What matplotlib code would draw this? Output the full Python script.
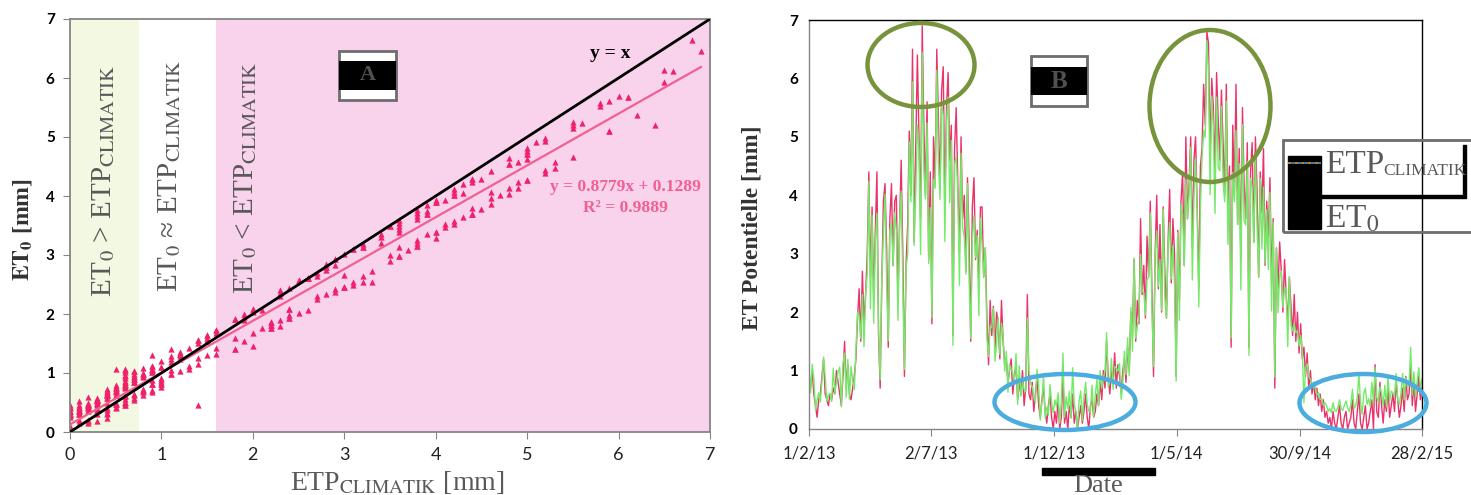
import matplotlib
matplotlib.use("Agg")
import matplotlib.pyplot as plt
from matplotlib.patches import Rectangle, Ellipse
from matplotlib.lines import Line2D
import numpy as np
import pandas as pd

plt.rcParams['mathtext.fontset'] = 'stix'
plt.rcParams['font.family'] = ['Lato', 'DejaVu Sans']

# ETP CLIMATIK (red) and ET0 (green), one value every two days, 1/2/13 -> 28/2/15
etp = [
    0.9, 0.7, 1.0, 0.6, 0.4, 0.2, 0.5, 0.6, 0.9, 1.2, 0.6, 0.5, 0.4, 0.6,
    0.5, 0.7, 0.6, 1.0, 0.8, 0.6, 0.4, 0.9, 1.5, 0.7, 1.1, 0.6, 0.5, 0.7, 0.9, 1.2,
    1.9, 2.4, 1.5, 2.7, 1.8, 2.3, 3.0, 4.4, 2.6, 3.8, 2.2, 3.4, 4.4, 1.6, 0.7,
    2.5, 3.9, 4.2, 3.1, 1.4, 3.6, 4.2, 2.8, 3.9, 4.0, 2.2, 3.5, 4.6, 3.0, 0.9, 2.8,
    3.5, 5.1, 4.0, 6.5, 3.2, 4.8, 6.4, 5.0, 3.6, 6.9, 5.2, 4.0, 5.6, 2.9, 4.4,
    1.8, 5.0, 4.2, 6.5, 5.3, 4.1, 5.8, 6.2, 3.8, 5.5, 6.1, 4.6, 5.2, 1.6, 4.8,
    5.5, 4.2, 3.0, 5.0, 3.6, 4.0, 2.7, 4.3, 3.2, 1.5, 3.8, 4.3, 2.9, 3.4, 2.4, 3.8,
    3.8, 2.6, 3.1, 1.9, 1.1, 2.2, 1.6, 2.1, 1.4, 2.0, 1.8, 1.2, 2.2, 1.5, 1.1,
    1.2, 0.8, 1.0, 1.2, 0.6, 0.9, 1.1, 0.5, 0.8, 0.6, 1.0, 0.4, 0.7, 2.3, 0.6,
    0.5, 0.8, 0.3, 0.6, 0.9, 0.4, 0.2, 0.5, 0.7, 0.3, 0.1, 0.4, 0.6, 0.2, 0.0,
    0.3, 0.1, 0.5, 0.0, 0.2, 0.9, 0.1, 0.3, 0.0, 0.4, 0.2, 0.6, 0.1, 0.3, 0.0, 0.2,
    0.4, 0.1, 0.3, 0.6, 0.2, 0.0, 0.4, 0.5, 0.2, 0.3, 0.6, 0.4, 0.8, 0.5, 1.0,
    0.7, 1.5, 0.9, 0.6, 1.0, 0.8, 1.3, 0.7, 1.1, 0.9, 0.6, 1.0, 1.2, 0.8,
    1.4, 1.0, 2.0, 1.6, 2.9, 1.5, 2.2, 1.8, 3.6, 2.3, 2.8, 1.9, 3.3, 2.6, 3.9, 2.4,
    0.9, 3.0, 4.0, 2.4, 3.5, 2.0, 3.8, 2.7, 1.9, 3.2, 4.1, 2.5, 3.6, 3.0, 0.9,
    3.4, 2.2, 3.9, 4.4, 2.8, 5.0, 3.6, 4.2, 5.0, 3.1, 4.6, 5.0, 3.8, 2.4, 4.5,
    4.8, 5.9, 5.2, 6.8, 6.6, 4.7, 6.0, 5.5, 4.4, 6.1, 5.3, 4.6, 5.8, 4.9, 4.0,
    5.9, 3.8, 4.5, 1.4, 5.2, 4.0, 5.9, 3.5, 4.8, 2.9, 5.5, 4.2, 3.6, 4.9, 1.4, 4.4,
    4.9, 3.2, 5.0, 4.1, 2.6, 4.4, 3.7, 4.8, 2.8, 3.9, 3.3, 4.3, 2.5, 3.6, 0.7,
    3.1, 2.4, 3.2, 2.7, 2.0, 2.9, 2.3, 1.8, 2.6, 2.1, 1.6, 2.3, 1.5, 2.0, 1.3,
    1.8, 1.2, 1.4, 0.9, 1.3, 0.7, 1.0, 0.6, 0.8, 0.5, 0.7, 0.4, 0.6, 0.3, 0.5, 0.2,
    0.3, 0.1, 0.2, 0.0, 0.3, 0.1, 0.0, 0.2, 0.4, 0.1, 0.0, 0.2, 0.3, 0.0, 0.1,
    0.2, 0.5, 0.1, 0.0, 0.3, 0.6, 0.1, 0.0, 0.2, 0.4, 0.0, 0.1, 0.3, 0.5, 0.0,
    1.1, 0.3, 0.2, 0.8, 0.4, 0.1, 0.5, 0.3, 0.7, 0.2, 0.4, 0.6, 0.3, 0.8, 0.5, 0.2,
    0.4, 0.7, 0.3, 0.9, 0.5, 0.6, 1.1, 0.4, 0.8, 0.3, 0.6, 0.9, 0.5, 0.7,
]
et0 = [
    1.07, 0.62, 1.11, 0.86, 0.33, 0.50, 0.62, 0.46, 0.82, 1.23, 0.91, 0.47, 0.58, 0.61,
    0.47, 1.04, 0.61, 0.81, 0.98, 1.06, 0.38, 1.12, 1.30, 0.54, 1.19, 0.51, 1.07, 0.84, 0.67, 1.33,
    2.00, 1.94, 1.55, 2.30, 1.41, 2.30, 2.66, 4.24, 2.06, 3.66, 1.81, 3.21, 3.69, 1.73, 0.84,
    2.57, 3.35, 4.02, 2.50, 1.51, 3.39, 3.52, 2.79, 3.70, 3.39, 1.86, 3.50, 4.07, 2.46, 1.02, 2.74,
    3.00, 4.91, 3.89, 5.94, 3.14, 4.04, 5.20, 4.77, 2.99, 6.45, 4.44, 3.94, 5.24, 2.83, 3.79,
    1.91, 4.27, 4.12, 6.14, 4.58, 3.93, 5.57, 5.37, 3.21, 5.26, 5.68, 3.87, 4.94, 1.43, 4.54,
    4.66, 4.07, 2.46, 4.72, 3.44, 3.29, 2.65, 4.20, 2.54, 1.55, 3.26, 3.65, 2.93, 3.31, 1.94, 3.61,
    3.16, 2.61, 3.10, 1.55, 1.24, 1.76, 1.73, 2.07, 1.16, 1.45, 1.91, 1.28, 1.81, 1.60, 0.99,
    1.33, 0.63, 1.11, 1.03, 0.96, 0.82, 1.29, 0.42, 1.08, 0.56, 0.81, 0.68, 0.64, 1.90, 1.01,
    0.77, 0.73, 0.54, 0.46, 1.02, 0.73, 0.15, 0.47, 0.94, 0.19, 0.37, 0.23, 0.76, 0.45, 0.28,
    0.50, 0.38, 0.62, 0.10, 0.45, 1.30, 0.20, 0.55, 0.35, 0.65, 0.18, 1.05, 0.42, 0.30, 0.02, 0.48,
    0.65, 0.15, 0.55, 0.80, 0.42, 0.30, 0.30, 0.75, 0.20, 0.58, 0.85, 0.40, 1.00, 0.70, 0.88,
    0.99, 1.65, 0.72, 0.81, 1.21, 0.68, 1.07, 1.04, 0.99, 1.12, 0.51, 0.76, 1.33, 0.93,
    1.56, 0.91, 2.08, 1.33, 2.93, 1.55, 1.76, 1.91, 2.99, 2.35, 2.34, 1.95, 2.55, 2.61, 3.70, 2.09,
    1.07, 3.01, 3.39, 2.44, 2.90, 2.03, 3.76, 2.25, 1.90, 3.14, 3.53, 2.57, 3.14, 2.46, 0.82,
    3.36, 1.86, 3.85, 3.69, 2.79, 4.27, 3.59, 4.02, 4.82, 2.55, 3.97, 4.62, 3.71, 2.09, 3.78,
    4.64, 5.11, 4.99, 6.65, 6.12, 4.01, 5.70, 5.16, 3.69, 5.68, 4.48, 4.42, 5.52, 4.23, 3.89,
    5.61, 3.16, 4.28, 1.56, 4.39, 3.89, 5.11, 3.50, 4.54, 2.38, 5.21, 3.57, 3.49, 4.58, 1.26, 4.29,
    4.13, 3.19, 4.72, 3.48, 2.61, 4.29, 3.08, 4.14, 2.84, 3.75, 2.73, 4.05, 2.02, 3.54, 0.89,
    3.10, 1.99, 2.64, 2.70, 2.08, 2.43, 2.40, 1.41, 2.61, 1.77, 1.68, 1.80, 1.65, 1.68, 1.42,
    1.60, 1.35, 0.45, 1.05, 1.12, 0.90, 0.85, 0.78, 0.70, 0.72, 0.58, 0.62, 0.50, 0.52, 0.40, 0.45,
    0.40, 0.30, 0.35, 0.28, 0.45, 0.32, 0.30, 0.38, 0.50, 0.35, 0.32, 0.40, 0.48, 0.36, 0.30,
    0.42, 0.68, 0.35, 0.40, 0.55, 0.95, 0.45, 0.25, 0.60, 0.70, 0.42, 0.52, 0.38, 0.80, 0.45,
    1.05, 0.55, 0.45, 0.72, 0.62, 0.40, 0.75, 0.38, 0.90, 0.48, 0.65, 0.62, 0.55, 0.95, 0.50, 0.42,
    0.62, 0.95, 0.50, 0.88, 0.72, 0.75, 1.40, 0.58, 0.98, 0.55, 0.82, 1.05, 0.70, 0.85,
]

fit_slope = 0.8779
fit_intercept = 0.1289
fit_r2 = 0.9889

date_ticks = ['2013-02-01', '2013-07-02', '2013-12-01', '2014-05-01', '2014-09-30', '2015-02-28']
date_labels = ['1/2/13', '2/7/13', '1/12/13', '1/5/14', '30/9/14', '28/2/15']

W, H = 1471, 495
def fx(x):
    return x / W
def fy(y):
    return 1 - y / H

fig = plt.figure(figsize=(W / 100, H / 100), dpi=100)

grey = '#595959'
serif = 'Liberation Serif'

### panel A : scatter
ax1 = fig.add_axes([fx(70), 63 / H, 640 / W, 413 / H])
ax1.axvspan(0, 0.75, color='#f3f8e2', lw=0, zorder=0)
ax1.axvspan(1.6, 7, color='#f9d2ec', lw=0, zorder=0)
ax1.scatter(etp, et0, marker='^', s=20, color='#f0206a', lw=0, zorder=2)
xf = np.array([0, 6.9])
ax1.plot(xf, fit_slope * xf + fit_intercept, color='#f06090', lw=1.6, zorder=3)
ax1.plot([0, 7], [0, 7], color='black', lw=2, zorder=4)
ax1.set_xlim(0, 7)
ax1.set_ylim(0, 7)
ax1.set_xticks(range(8))
ax1.set_yticks(range(8))
for s in ax1.spines.values():
    s.set_color('#858585')
    s.set_linewidth(1.3)
ax1.tick_params(axis='x', length=5, color='#858585', labelsize=13, labelcolor='#222222', pad=6)
ax1.tick_params(axis='y', length=5, color='#858585', labelsize=11, pad=6)
for t in ax1.get_yticklabels():
    t.set_fontweight('bold')

ax1.text(0.37, 6.22, r'ET$_0$ > ETP$_{\mathrm{CLIMATIK}}$', rotation=90, ha='center', va='top',
         fontsize=21, color=grey, family=serif)
ax1.text(1.09, 6.30, r'ET$_0$ ≈ ETP$_{\mathrm{CLIMATIK}}$', rotation=90, ha='center', va='top',
         fontsize=21, color=grey, family=[serif, 'DejaVu Serif'])
ax1.text(1.92, 6.27, r'ET$_0$ < ETP$_{\mathrm{CLIMATIK}}$', rotation=90, ha='center', va='top',
         fontsize=21, color=grey, family=serif)
ax1.text(5.91, 6.42, 'y = x', ha='center', va='center', fontsize=14, fontweight='bold', family=serif)
ax1.text(6.07, 4.15, 'y = %.4fx + %.4f' % (fit_slope, fit_intercept), ha='center', va='center',
         fontsize=12.5, fontweight='bold', color='#f06090', family=serif)
ax1.text(6.07, 3.80, 'R² = %.4f' % fit_r2, ha='center', va='center',
         fontsize=12.5, fontweight='bold', color='#f06090', family=serif)

fig.text(fx(22), fy(230), r'$\mathbf{ET_0}$ [mm]', rotation=90, ha='center', va='center',
         fontsize=17, fontweight='bold', color='#333333', family=serif)
fig.text(fx(397), fy(490), r'ETP$_{\mathrm{CLIMATIK}}$ [mm]', ha='center', va='baseline',
         fontsize=20, color=grey, family=serif)

### panel B : time series
dates = pd.date_range('2013-02-01', '2015-02-28', periods=len(etp))
ax2 = fig.add_axes([fx(809), 66 / H, 613 / W, 409 / H])
ax2.plot(dates, etp, color='#e8336b', lw=1.0)
ax2.plot(dates, et0, color='#74ea68', lw=1.0)
ax2.set_xlim(pd.Timestamp('2013-02-01'), pd.Timestamp('2015-02-28'))
ax2.set_ylim(0, 7)
ax2.set_xticks(pd.to_datetime(date_ticks))
ax2.set_xticklabels(date_labels)
ax2.set_yticks(range(8))
ax2.spines['top'].set_color('black')
ax2.spines['right'].set_color('black')
ax2.spines['left'].set_color('#858585')
ax2.spines['bottom'].set_color('#858585')
for s in ax2.spines.values():
    s.set_linewidth(1.0)
ax2.tick_params(axis='x', length=5, color='#858585', labelsize=12, labelcolor='#222222', pad=7)
ax2.tick_params(axis='y', length=0, labelsize=11, pad=8)
for t in ax2.get_yticklabels():
    t.set_fontweight('bold')

fig.text(fx(752), fy(228), 'ET Potentielle [mm]', rotation=90, ha='center', va='center',
         fontsize=17, fontweight='bold', color='#333333', family=serif)
fig.add_artist(Rectangle((fx(1042), fy(475)), 113 / W, 7 / H, color='black', transform=fig.transFigure))
fig.text(fx(1098), fy(492), 'Date', ha='center', va='baseline', fontsize=19, color=grey, family=serif)

# circled areas
for cx, cy, w, h, c in [(921, 65, 107, 84, '#77933c'), (1210, 106, 121, 152, '#77933c'),
                        (1065, 402, 141, 56, '#4bacdf'), (1363, 403, 127, 58, '#4bacdf')]:
    fig.add_artist(Ellipse((fx(cx), fy(cy)), w / W, h / H, fill=False, edgecolor=c, lw=3.2,
                           transform=fig.transFigure, zorder=5))

# panel tags A / B
for x0, x1, y0, y1, b0, b1, lab, fs in [(339, 396, 51, 100, 61, 90, 'A', 16),
                                        (1031, 1087, 56, 106, 67, 95, 'B', 18)]:
    fig.add_artist(Rectangle((fx(x0), fy(y1)), (x1 - x0) / W, (y1 - y0) / H, facecolor='white',
                             edgecolor='#6d6d6d', lw=2, transform=fig.transFigure, zorder=6))
    fig.add_artist(Rectangle((fx(x0), fy(b1)), (x1 - x0) / W, (b1 - b0) / H, facecolor='black',
                             lw=0, transform=fig.transFigure, zorder=7))
    fig.text(fx((x0 + x1) / 2), fy((b0 + b1) / 2), lab, ha='center', va='center', fontsize=fs,
             fontweight='bold', color='#505050', family=serif, zorder=8)

# legend box
fig.add_artist(Rectangle((fx(1283), fy(232)), (1480 - 1283) / W, 92 / H, fill=False,
                         edgecolor='#6d6d6d', lw=2, transform=fig.transFigure, zorder=6))
fig.add_artist(Rectangle((fx(1288), fy(229)), 33 / W, 73 / H, color='black', transform=fig.transFigure, zorder=7))
fig.add_artist(Rectangle((fx(1321), fy(198)), 142 / W, 3 / H, color='black', transform=fig.transFigure, zorder=7))
fig.add_artist(Rectangle((fx(1463), fy(198)), 3 / W, 53 / H, color='black', transform=fig.transFigure, zorder=7))
fig.add_artist(Line2D([fx(1288), fx(1321)], [fy(163), fy(163)], color='#e0a030', lw=1.2,
                      ls=(0, (2, 2)), transform=fig.transFigure, zorder=8))
fig.add_artist(Line2D([fx(1288), fx(1321)], [fy(163), fy(163)], color='#40a0c0', lw=1.2,
                      ls=(2, (2, 2)), transform=fig.transFigure, zorder=8))
fig.text(fx(1325), fy(173), 'ETP', ha='left', va='baseline', fontsize=24,
         color=grey, family=serif, zorder=8)
fig.text(fx(1383), fy(175), 'CLIMATIK', ha='left', va='baseline', fontsize=12.5,
         color=grey, family=serif, zorder=8)
fig.text(fx(1325), fy(227), r'ET$_0$', ha='left', va='baseline', fontsize=24, color=grey,
         family=serif, zorder=8)

fig.savefig('out.png', dpi=100)
